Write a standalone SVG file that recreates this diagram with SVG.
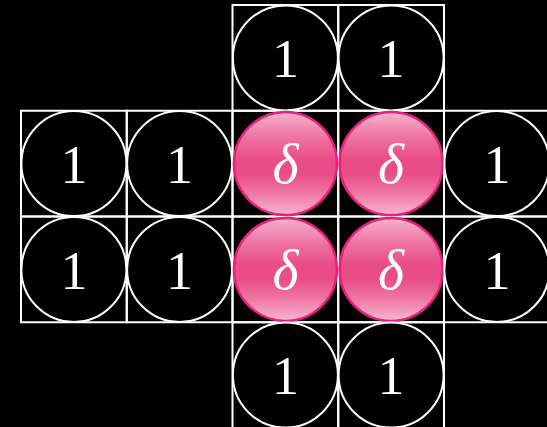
<svg xmlns="http://www.w3.org/2000/svg" width="547" height="427" viewBox="0 0 547 427">
<defs>
<linearGradient id="pink" x1="0" y1="0" x2="0" y2="1">
<stop offset="0" stop-color="#f8b2cc"/>
<stop offset="0.25" stop-color="#ee73a1"/>
<stop offset="0.45" stop-color="#e94d88"/>
<stop offset="0.6" stop-color="#e94d88"/>
<stop offset="0.8" stop-color="#ef7aa6"/>
<stop offset="1" stop-color="#f8b6cf"/>
</linearGradient>
<style>
.cell{fill:none;stroke:#fff;stroke-width:2}
.one{fill:#000;stroke:#fff;stroke-width:2}
.delta{fill:url(#pink);stroke:#e8207a;stroke-width:2.5}
.t{fill:#fff;font-family:"Liberation Serif","DejaVu Serif",serif;font-size:54px;text-anchor:middle}
.d{font-style:italic;font-size:56px}
</style>
</defs>
<rect width="547" height="427" fill="#000"/>
<g id="grid">
<rect class="cell" x="232.5" y="5" width="105.75" height="105.75"/>
<rect class="cell" x="338.25" y="5" width="105.75" height="105.75"/>
<rect class="cell" x="21" y="110.75" width="105.75" height="105.75"/>
<rect class="cell" x="126.75" y="110.75" width="105.75" height="105.75"/>
<rect class="cell" x="232.5" y="110.75" width="105.75" height="105.75"/>
<rect class="cell" x="338.25" y="110.75" width="105.75" height="105.75"/>
<rect class="cell" x="444" y="110.75" width="105.75" height="105.75"/>
<rect class="cell" x="21" y="216.5" width="105.75" height="105.75"/>
<rect class="cell" x="126.75" y="216.5" width="105.75" height="105.75"/>
<rect class="cell" x="232.5" y="216.5" width="105.75" height="105.75"/>
<rect class="cell" x="338.25" y="216.5" width="105.75" height="105.75"/>
<rect class="cell" x="444" y="216.5" width="105.75" height="105.75"/>
<rect class="cell" x="232.5" y="322.25" width="105.75" height="105.75"/>
<rect class="cell" x="338.25" y="322.25" width="105.75" height="105.75"/>
</g>
<g id="connectors"/>
<g id="n-0-2"><circle class="one" cx="285.4" cy="57.9" r="52.5"/><text class="t" x="285.4" y="77">1</text></g>
<g id="n-0-3"><circle class="one" cx="391.1" cy="57.9" r="52.5"/><text class="t" x="391.1" y="77">1</text></g>
<g id="n-1-0"><circle class="one" cx="73.9" cy="163.6" r="52.5"/><text class="t" x="73.9" y="182.7">1</text></g>
<g id="n-1-1"><circle class="one" cx="179.6" cy="163.6" r="52.5"/><text class="t" x="179.6" y="182.7">1</text></g>
<g id="n-1-2"><circle class="delta" cx="285.4" cy="163.6" r="51.5"/><text class="t d" x="285.4" y="182.7">δ</text></g>
<g id="n-1-3"><circle class="delta" cx="391.1" cy="163.6" r="51.5"/><text class="t d" x="391.1" y="182.7">δ</text></g>
<g id="n-1-4"><circle class="one" cx="496.9" cy="163.6" r="52.5"/><text class="t" x="496.9" y="182.7">1</text></g>
<g id="n-2-0"><circle class="one" cx="73.9" cy="269.4" r="52.5"/><text class="t" x="73.9" y="288.5">1</text></g>
<g id="n-2-1"><circle class="one" cx="179.6" cy="269.4" r="52.5"/><text class="t" x="179.6" y="288.5">1</text></g>
<g id="n-2-2"><circle class="delta" cx="285.4" cy="269.4" r="51.5"/><text class="t d" x="285.4" y="288.5">δ</text></g>
<g id="n-2-3"><circle class="delta" cx="391.1" cy="269.4" r="51.5"/><text class="t d" x="391.1" y="288.5">δ</text></g>
<g id="n-2-4"><circle class="one" cx="496.9" cy="269.4" r="52.5"/><text class="t" x="496.9" y="288.5">1</text></g>
<g id="n-3-2"><circle class="one" cx="285.4" cy="375.1" r="52.5"/><text class="t" x="285.4" y="394.2">1</text></g>
<g id="n-3-3"><circle class="one" cx="391.1" cy="375.1" r="52.5"/><text class="t" x="391.1" y="394.2">1</text></g>
</svg>
